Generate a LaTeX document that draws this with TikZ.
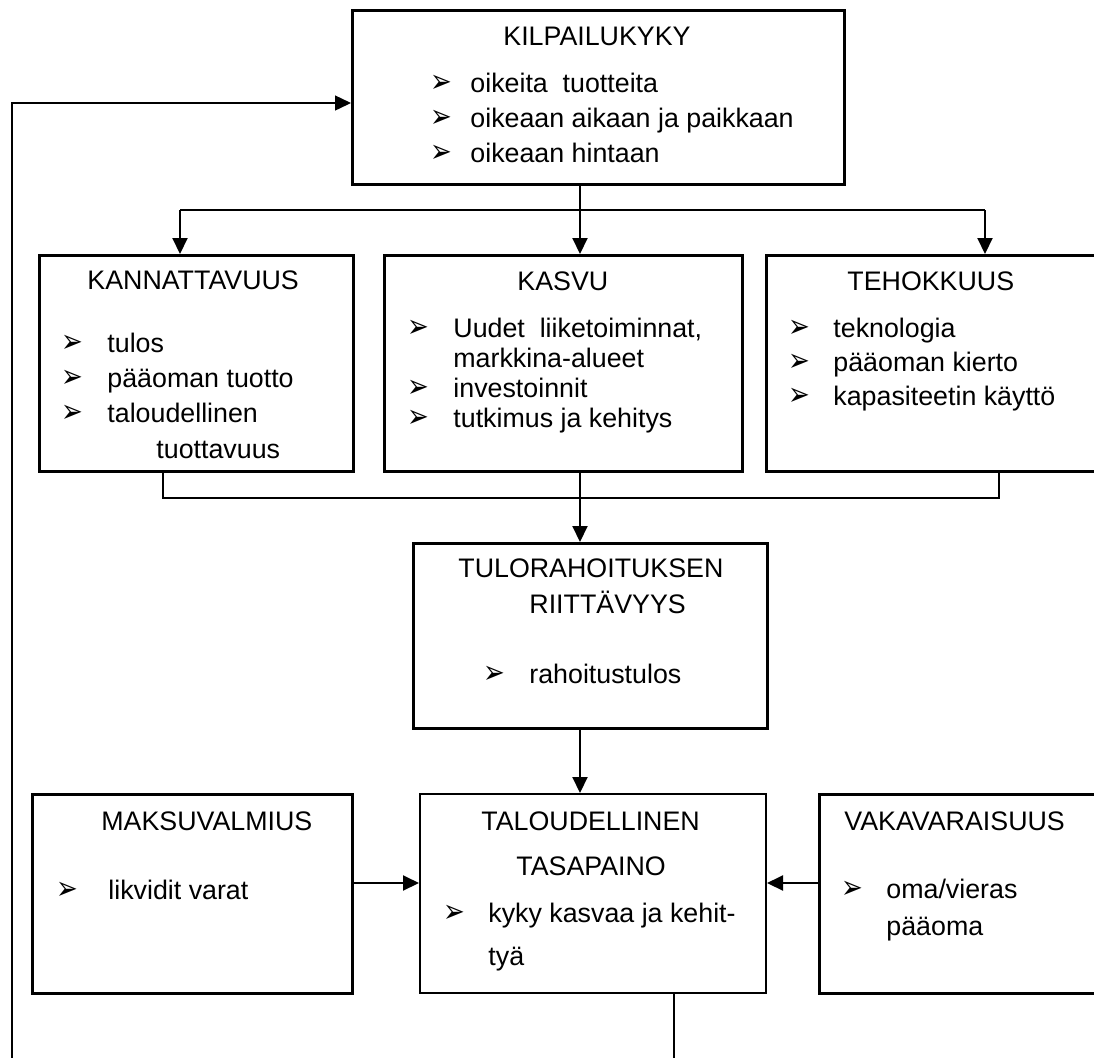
\documentclass[tikz,border=0pt]{standalone}
\usepackage{fontspec}
\usepackage{graphicx}
\setmainfont{Liberation Sans}
\newfontfamily\symfont{DejaVu Sans}
\usetikzlibrary{arrows.meta}

\tikzset{
  box/.style={draw, line width=1.4pt, inner sep=0pt, anchor=north west},
  txt/.style={anchor=base west, inner sep=0pt, font=\fontsize{13.4pt}{16pt}\selectfont},
  blt/.style={anchor=base west, inner sep=0pt, font=\symfont\fontsize{13pt}{15pt}\selectfont},
  line/.style={line width=0.8pt},
  arr/.style={line width=1pt, -{Triangle[length=8pt,width=7.5pt]}}
}
% bullet + text of one list line
\newcommand{\kohta}[5]{\node[blt] (#1b) at (#2,#4) {\scalebox{1}[1.25]{➢}}; \node[txt] (#1) at (#3,#4) {#5};}

\begin{document}
\begin{tikzpicture}[x=0.5pt, y=-0.5pt]
\useasboundingbox (0,0) rectangle (1094,1057);

% boxes
\node[box, minimum width=246pt, minimum height=87pt] (kilp) at (351,9) {};
\node[box, minimum width=157pt, minimum height=108pt] (kann) at (38,254) {};
\node[box, minimum width=179pt, minimum height=108pt] (kasvu) at (383,254) {};
\node[box, minimum width=170pt, minimum height=108pt] (teho) at (765,254) {};
\node[box, minimum width=177pt, minimum height=92.5pt] (tulo) at (412,542) {};
\node[box, minimum width=160pt, minimum height=99.5pt] (maks) at (31,793) {};
\node[box, line width=1pt, minimum width=173pt, minimum height=99.5pt] (tal) at (419,793) {};
\node[box, minimum width=145pt, minimum height=99.5pt] (vaka) at (818,793) {};

% texts
\node[txt] (kilpT) at (503,45) {KILPAILUKYKY};
\kohta{kilpA}{430}{470}{92}{oikeita\ \ tuotteita}
\kohta{kilpB}{430}{470}{127}{oikeaan aikaan ja paikkaan}
\kohta{kilpC}{430}{470}{162}{oikeaan hintaan}

\node[txt] (kannT) at (87,289) {KANNATTAVUUS};
\kohta{kannA}{61}{107}{352}{tulos}
\kohta{kannB}{61}{107}{387}{pääoman tuotto}
\kohta{kannC}{61}{107}{422}{taloudellinen}
\node[txt] (kannD) at (156,458) {tuottavuus};

\node[txt] (kasvuT) at (517,290) {KASVU};
\kohta{kasvuA}{407}{453}{337}{Uudet\ \ liiketoiminnat,}
\node[txt] (kasvuA2) at (453,367) {markkina-alueet};
\kohta{kasvuB}{407}{453}{397}{investoinnit}
\kohta{kasvuC}{407}{453}{427}{tutkimus ja kehitys}

\node[txt] (tehoT) at (847,290) {TEHOKKUUS};
\kohta{tehoA}{788}{833}{337}{teknologia}
\kohta{tehoB}{788}{833}{371}{pääoman kierto}
\kohta{tehoC}{788}{833}{405}{kapasiteetin käyttö}

\node[txt] (tuloT) at (458,577) {TULORAHOITUKSEN};
\node[txt] (tuloT2) at (529,613) {RIITTÄVYYS};
\kohta{tuloA}{483}{529}{683}{rahoitustulos}

\node[txt] (maksT) at (101,830) {MAKSUVALMIUS};
\kohta{maksA}{56}{108}{899}{likvidit varat}

\node[txt] (talT) at (481,830) {TALOUDELLINEN};
\node[txt] (talT2) at (516,875) {TASAPAINO};
\kohta{talA}{443}{488}{922}{kyky kasvaa ja kehit-}
\node[txt] (talA2) at (488,965) {tyä};

\node[txt] (vakaT) at (844,830) {VAKAVARAISUUS};
\kohta{vakaA}{841}{886}{898}{oma/vieras}
\node[txt] (vakaA2) at (886,935) {pääoma};

% connectors
\coordinate (busA) at (180,210);
\coordinate (busB) at (580,210);
\coordinate (busC) at (985,210);
\draw[line] (busB |- kilp.south) -- (busB);
\draw[line] (busA) -- (busC);
\draw[arr] (busA) -- (busA |- kann.north);
\draw[arr] (busB) -- (busB |- kasvu.north);
\draw[arr] (busC) -- (busC |- teho.north);

\coordinate (colA) at (163,498);
\coordinate (colB) at (580,498);
\coordinate (colC) at (999,498);
\draw[line] (colA |- kann.south) -- (colA) -- (colC) -- (colC |- teho.south);
\draw[arr] (colB |- kasvu.south) -- (colB |- tulo.north);
\draw[arr] (colB |- tulo.south) -- (colB |- tal.north);

\coordinate (mid) at (0,883);
\draw[arr] (maks.east |- mid) -- (tal.west |- mid);
\draw[arr] (vaka.west |- mid) -- (tal.east |- mid);

% feedback loop
\coordinate (fbDown) at (674,1064);
\coordinate (fbLeft) at (12,1064);
\coordinate (fbIn) at (12,103);
\draw[line, line width=0.7pt, -{Triangle[length=8pt,width=7.5pt]}]
  (fbDown |- tal.south) -- (fbDown) -- (fbLeft) -- (fbIn) -- (kilp.west |- fbIn);
\end{tikzpicture}
\end{document}
